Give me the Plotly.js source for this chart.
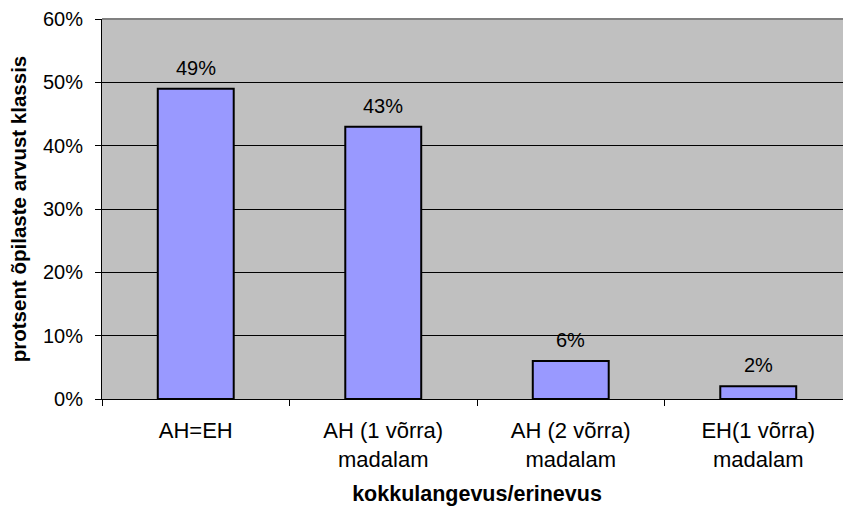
<!DOCTYPE html>
<html>
<head>
<meta charset="utf-8">
<script src="https://cdn.plot.ly/plotly-3.0.1.min.js"></script>
<style>
html,body{margin:0;padding:0;overflow:hidden;background:#fff;}
#chart{width:852px;height:508px;}
</style>
</head>
<body>
<div id="chart"></div>
<script>
const categories = ["AH=EH", "AH (1 võrra)<br>madalam", "AH (2 võrra)<br>madalam", "EH(1 võrra)<br>madalam"];
const values = [0.49, 0.43, 0.06, 0.02];
const labels = ["49%", "43%", "6%", "2%"];
const yTickVals = [0, 0.1, 0.2, 0.3, 0.4, 0.5, 0.6];
const yTickText = ["0%", "10%", "20%", "30%", "40%", "50%", "60%"];

const FONT = "Arial, 'Liberation Sans', sans-serif";

const trace = {
  type: "bar",
  x: categories,
  y: values,
  marker: {color: "#9999FF", line: {color: "#000000", width: 2}},
  hoverinfo: "skip"
};

const annotations = categories.map((c, i) => ({
  x: c, y: values[i], xref: "x", yref: "y",
  text: labels[i], showarrow: false,
  yanchor: "middle", yshift: 21,
  font: {family: FONT, size: 20, color: "#000"}
}));

const layout = {
  width: 852, height: 508,
  margin: {l: 102, r: 0, t: 19, b: 109},
  paper_bgcolor: "#ffffff",
  plot_bgcolor: "#C0C0C0",
  bargap: 0.595,
  showlegend: false,
  font: {family: FONT, size: 20, color: "#000"},
  xaxis: {
    type: "category",
    tickson: "boundaries",
    ticks: "outside", ticklen: 6, tickcolor: "#000", tickwidth: 1,
    ticklabelstandoff: 12,
    showline: true, linecolor: "#000", linewidth: 1,
    showgrid: false,
    tickfont: {family: FONT, size: 22, color: "#000"},
    title: {text: "<b>kokkulangevus/erinevus</b>", font: {family: FONT, size: 21.5, color: "#000"}, standoff: 14}
  },
  yaxis: {
    range: [0, 0.6],
    tickvals: yTickVals, ticktext: yTickText,
    ticks: "outside", ticklen: 6, tickcolor: "#000", tickwidth: 1,
    ticklabelstandoff: 8,
    showline: true, linecolor: "#000", linewidth: 1,
    showgrid: true, gridcolor: "#000", gridwidth: 1,
    zeroline: false,
    tickfont: {family: FONT, size: 20, color: "#000"},
    title: {text: "<b>protsent õpilaste arvust klassis</b>", font: {family: FONT, size: 20.5, color: "#000"}, standoff: 10}
  },
  annotations: annotations,
  shapes: [{type: "line", xref: "paper", yref: "paper", x0: 0, x1: 1, y0: 1, y1: 1,
            line: {color: "#808080", width: 2}}]
};

Plotly.newPlot("chart", [trace], layout, {staticPlot: true, displayModeBar: false});
</script>
</body>
</html>
